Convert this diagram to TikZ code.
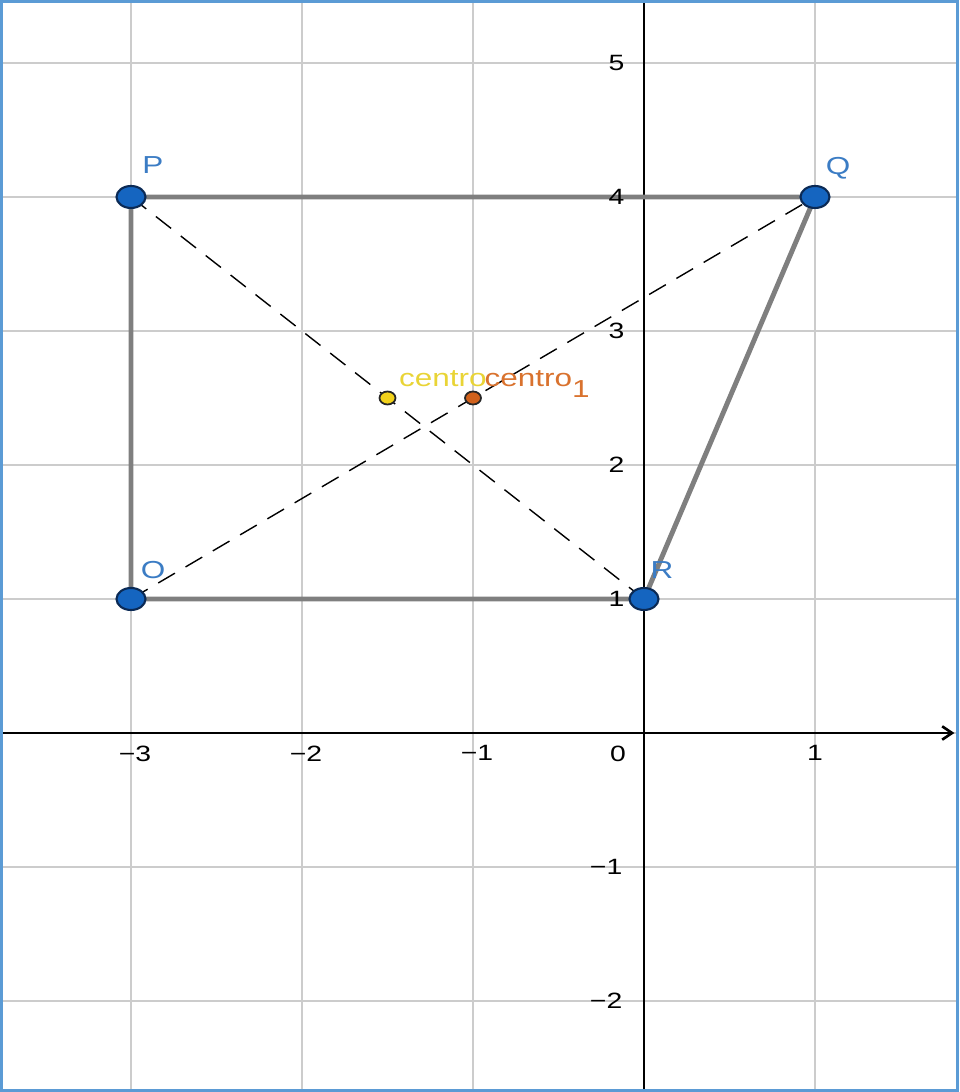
\documentclass[tikz,border=0pt]{standalone}
\usepackage{fontspec}
\newfontfamily\geofont[FakeStretch=1.28]{Liberation Sans}
\usetikzlibrary{calc,arrows.meta}
\definecolor{cgrid}{HTML}{CCCCCC}
\definecolor{cseg}{HTML}{7F7F7F}
\definecolor{cpt}{HTML}{1565C0}
\definecolor{cptline}{HTML}{0B2A55}
\definecolor{clbl}{HTML}{3B7CC4}
\definecolor{cyel}{HTML}{F2D21B}
\definecolor{cyeltxt}{HTML}{E9D436}
\definecolor{corg}{HTML}{D0611C}
\definecolor{corgtxt}{HTML}{D9722E}
\definecolor{cframe}{HTML}{5B9BD5}
\begin{document}
\begin{tikzpicture}[x=1.71cm, y=1.34cm, font=\geofont,
  gridline/.style={cgrid, line width=0.8pt},
  axis/.style={black, line width=0.75pt},
  seg/.style={cseg, line width=1.4pt},
  diag/.style={black, line width=0.4pt, dash pattern=on 5.5pt off 3.5pt},
  pt/.style={fill=cpt, draw=cptline, line width=0.6pt},
  mid/.style={fill=#1, draw=black!85, line width=0.5pt},
  lbl/.style={clbl, font=\geofont\fontsize{7}{8}\selectfont, inner sep=0pt},
  midlbl/.style={#1, font=\geofont\fontsize{7}{8}\selectfont, inner sep=0pt, anchor=base west},
  tick/.style={font=\geofont\fontsize{6.3}{7}\selectfont, inner sep=0pt}]
\useasboundingbox (-3.7661,-2.6791) rectangle (1.8421,5.4701);
%% grid
\foreach \x in {-3,...,1} \draw[gridline] (\x,-2.6791) -- (\x,5.4701);
\foreach \y in {-2,...,5} \draw[gridline] (-3.7661,\y) -- (1.8421,\y);
%% axes
\coordinate (xl) at (-3.7661,0);
\coordinate (xr) at (1.815,0);
\coordinate (yb) at (0,-2.6791);
\coordinate (yt) at (0,5.4701);
\draw[axis, -{Straight Barb[length=2.8pt, width=3.8pt]}] (xl) -- (xr);
\draw[axis] (yb) -- (yt);
%% points
\coordinate (O) at (-3,1);
\coordinate (P) at (-3,4);
\coordinate (Q) at (1,4);
\coordinate (R) at (0,1);
\coordinate (centro) at ($(P)!0.5!(R)$);
\coordinate (centro1) at ($(O)!0.5!(Q)$);
%% diagonals and sides
\draw[diag] (P) -- (R);
\draw[diag] (O) -- (Q);
\draw[seg] (O) -- (P) -- (Q) -- (R) -- cycle;
%% tick labels
\foreach \x in {-3,-2,-1} \node[tick, anchor=north] at ([shift={(0.04cm,-0.12cm)}]\x,0) {−\the\numexpr-\x\relax};
\node[tick, anchor=north] (t1) at ([shift={(0,-0.12cm)}]1,0) {1};
\node[tick, anchor=north] (t0) at ([shift={(-0.26cm,-0.12cm)}]0,0) {0};
\foreach \y in {1,...,5} \node[tick, anchor=east] at ([xshift=-0.19cm]0,\y) {\y};
\foreach \y in {-1,-2} \node[tick, anchor=east] at ([xshift=-0.21cm]0,\y) {−\the\numexpr-\y\relax};
%% point marks
\foreach \p in {O,P,Q,R} \path[pt] (\p) ellipse [x radius=0.145cm, y radius=0.11cm];
\path[mid=cyel] (centro) ellipse [x radius=0.08cm, y radius=0.065cm];
\path[mid=corg] (centro1) ellipse [x radius=0.08cm, y radius=0.065cm];
%% labels
\node[lbl] (lP) at ([shift={(0.22cm,0.32cm)}]P) {P};
\node[lbl] (lQ) at ([shift={(0.23cm,0.29cm)}]Q) {Q};
\node[lbl] (lO) at ([shift={(0.22cm,0.29cm)}]O) {O};
\node[lbl] (lR) at ([shift={(0.18cm,0.29cm)}]R) {R};
\node[midlbl=cyeltxt] (lc) at ([shift={(0.11cm,0.11cm)}]centro) {centro};
\node[midlbl=corgtxt] (lc1) at ([shift={(0.11cm,0.11cm)}]centro1) {centro\raisebox{-3.1pt}{1}};
%% frame
\draw[cframe, line width=0.9pt] ([shift={(0.45pt,0.45pt)}]current bounding box.south west) rectangle ([shift={(-0.45pt,-0.45pt)}]current bounding box.north east);
\end{tikzpicture}
\end{document}
